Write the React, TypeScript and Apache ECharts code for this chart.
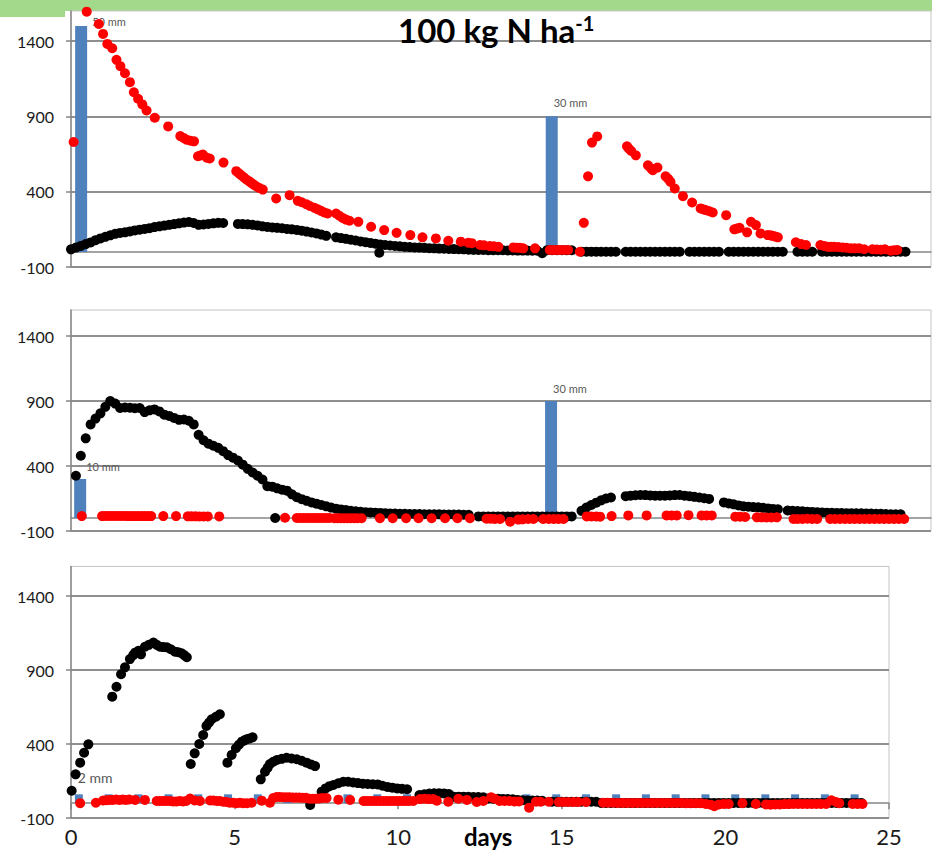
import React, { useEffect, useRef } from "react";
import * as echarts from "echarts";

// ---------- data ----------
const TITLE_MAIN = "100 kg N ha";
const TITLE_SUP = "-1";
const X_NAME = "days";
const Y_TICKS = [-100, 400, 900, 1400];
const Y_MIN = -100;
const Y_MAX = 1600;
const X_MAX_TOP = 26.28;
const X_MAX_BOTTOM = 25;
const MM_SCALE = 30; // axis units per mm of water

const STEP = 0.15; // sampling step (days) of the dense black records

// Panel 1
const P1_RAIN_DAYS = [0.31, 14.69];
const P1_RAIN_MM = [50, 30];
const P1_BLACK_START = 0;
const P1_BLACK = [
  17, 29, 40, 52, 63, 78, 90, 100, 110, 120,
  126, 130, 136, 143, 148, 153, 158, 165, 170, 175,
  180, 185, 190, 195, 199, 192, 180, 182, 186, 190,
  193, 192, null, null, 186, 185, 183, 180, 176, 170,
  166, 163, 160, 157, 153, 150, 146, 141, 135, 129,
  123, 115, 107, null, 97, 92, 87, 81, 76, 70,
  65, 60, 55, 50, 46, 43, 40, 37, 34, 32,
  30, 29, 27, 25, 24, 22, 21, 20, 19, 18,
  17, 15, 14, 13, 13, 12, 12, 11, 11, 10,
  10, 9, 9, 9, 8, 8, -9, 12, 12, 12,
  12, 11, 11, null, 2, 2, 2, 2, 1, 1,
  1, 1, null, 1, 1, 1, 1, 1, 1, 1,
  1, 1, 1, 1, 1, null, 1, 1, 1, 1,
  1, 1, 1, null, 1, 1, 1, 1, 1, 1,
  1, 1, 1, 1, 1, 1, null, null, 1, 1,
  1, 1, null, 1, 1, 1, 1, 1, 1, 1,
  1, 1, 1, 1, 1, 1, 1, 1, 1, 1,
  1,
];
const P1_BLACK_EXTRA = [[9.42, -5]];
const P1_RED = [
  [0.08, 730], [0.48, 1595], [0.85, 1513], [0.98, 1447], [1.11, 1381], [1.26, 1352], [1.39, 1275], [1.51, 1233],
  [1.65, 1186], [1.8, 1127], [1.92, 1060], [2.05, 1017], [2.18, 979], [2.31, 939], [2.56, 891], [2.97, 833],
  [3.34, 769], [3.44, 757], [3.53, 745], [3.65, 738], [3.76, 734], [3.88, 635], [3.95, 640], [4.03, 646],
  [4.15, 625], [4.24, 620], [4.66, 593], [5.05, 536], [5.13, 522], [5.2, 509], [5.28, 495], [5.36, 481],
  [5.44, 470], [5.51, 458], [5.58, 447], [5.66, 436], [5.75, 425], [5.86, 414], [6.27, 355], [6.68, 377],
  [6.93, 339], [7.05, 330], [7.19, 317], [7.3, 305], [7.44, 293], [7.54, 283], [7.64, 273], [7.74, 262],
  [7.84, 255], [8.1, 255], [8.2, 240], [8.3, 226], [8.4, 215], [8.51, 207], [8.78, 200], [9.17, 167],
  [9.57, 145], [9.95, 127], [10.37, 112], [10.74, 97], [11.15, 90], [11.53, 74], [11.91, 68], [12.14, 61],
  [12.25, 58], [12.5, 46], [12.62, 44], [12.8, 39], [12.92, 37], [13.06, 34], [13.52, 30], [13.62, 28],
  [13.72, 27], [13.82, 24], [14.18, 24], [14.63, 13], [14.73, 13], [14.84, 13], [14.94, 13], [15.06, 13],
  [15.19, 13], [15.55, 1], [15.67, 193], [15.8, 502], [15.92, 726], [16.08, 767], [16.99, 701], [17.05, 685],
  [17.12, 670], [17.26, 641], [17.63, 575], [17.72, 555], [17.78, 542], [17.92, 560], [18.17, 502], [18.25, 485],
  [18.32, 465], [18.45, 421], [18.7, 370], [18.98, 328], [19.24, 289], [19.33, 282], [19.41, 277], [19.51, 270],
  [19.61, 262], [20.02, 244], [20.27, 150], [20.35, 155], [20.43, 160], [20.66, 130], [20.78, 200], [20.93, 178],
  [21.07, 123], [21.29, 112], [21.37, 110], [21.44, 107], [21.52, 102], [21.6, 97], [22.15, 64], [22.31, 52],
  [22.46, 46], [22.9, 46], [23.01, 40], [23.12, 34], [23.22, 34], [23.32, 34], [23.45, 32], [23.58, 30],
  [23.7, 28], [23.83, 24], [23.95, 24], [24.08, 24], [24.24, 18], [24.49, 18], [24.62, 16], [24.75, 15],
  [24.87, 18], [25.05, 8], [25.15, 12], [25.25, 13],
];

// Panel 2
const P2_RAIN_DAYS = [0.28, 14.67];
const P2_RAIN_MM = [10, 30];
const P2_BLACK_START = 0.15;
const P2_BLACK = [
  325, 479, 613, 720, 765, 805, 855, 900, 880, 846,
  850, 848, 845, 846, 815, 828, 835, 820, 795, 785,
  770, 755, 758, 748, 720, 640, 598, 572, 556, 540,
  514, 484, 464, 442, 410, 378, 350, 325, 296, 245,
  241, 228, 218, 210, 182, 160, 145, 132, 120, 110,
  100, 90, 80, 72, 66, 61, 56, 52, 48, 45,
  43, 41, 39, 37, 35, 34, 33, 32, 31, 30,
  30, 29, 29, 28, 28, 27, 27, 26, 26, 25,
  25, null,
  12, 12, 12, 12, 12, 12, 12, 12, 12, 12,
  12, 12, 12, 12, 12, 12, 12, 12, 12, 12,
  null, 55, 80, 100, 118, 136, 150, 158, null, null,
  168, 172, 175, 177, 176, 174, 172, 171, 172, 174,
  176, 177, 172, 168, 163, 158, 152, 147, null, null,
  120, 112, 105, 97, 90, 87, 84, 82, 78, 74,
  70, 67, null,
  58, 56, 54, 52, 49, 47, 45, 43, 41, 40,
  39, 38, 37, 37, 36, 36, 35, 34, 33, 32,
  31, 29, 28, 28,
];
const P2_BLACK_EXTRA = [[6.24, 0]];
const P2_RED = [
  [0.33, 15], [0.95, 15], [1.05, 16], [1.15, 16], [1.25, 16], [1.35, 16], [1.45, 16], [1.55, 16], [1.65, 16],
  [1.75, 15], [1.85, 15], [1.95, 15], [2.05, 15], [2.15, 15], [2.25, 15], [2.35, 15], [2.45, 15], [2.82, 15],
  [3.21, 15], [3.57, 13], [3.68, 13], [3.8, 13], [3.92, 12], [4.05, 12], [4.18, 12], [4.53, 12], [6.54, 2],
  [6.9, 0], [7.0, 0], [7.1, 0], [7.2, 0], [7.3, 0], [7.4, 0], [7.5, 0], [7.6, 0], [7.7, 0], [7.8, 0], [7.9, 0],
  [8.05, -2], [8.15, -2], [8.25, -2], [8.35, -2], [8.45, -2], [8.55, -2], [8.65, -2], [8.75, -2], [8.88, -2],
  [9.44, -2], [9.83, -2], [10.24, -2], [10.62, -2], [11.02, -2], [11.43, -2], [11.81, -2], [12.19, -2],
  [12.7, -6], [12.82, -6], [12.95, -8], [13.11, -8], [13.42, -28], [13.67, -12], [13.8, -10], [13.97, -8],
  [14.13, -8], [14.43, -8], [14.6, -8], [14.75, -8], [14.9, -8], [15.05, -8], [15.76, 12], [15.9, 12],
  [16.05, 12], [16.17, 10], [16.52, 15], [17.03, 20], [17.59, 20], [18.2, 20], [18.35, 20], [18.51, 20],
  [18.87, 22], [19.27, 20], [19.42, 20], [19.58, 20], [20.3, 10], [20.45, 10], [20.6, 8], [20.96, 5],
  [21.1, 5], [21.25, 4], [21.4, 4], [21.57, 5], [22.08, -8], [22.2, -8], [22.35, -8], [22.5, -6], [22.65, -8],
  [22.8, -8], [23.2, -8], [23.35, -8], [23.5, -8], [23.65, -8], [23.8, -8], [23.95, -8], [24.1, -8],
  [24.25, -8], [24.4, -8], [24.55, -8], [24.7, -8], [24.85, -8], [25.0, -8], [25.15, -8], [25.3, -8], [25.46, -8],
];

// Panel 3
const P3_IRRIGATION_DAYS = [
  0.24, 1.15, 2.06, 2.98, 3.89, 4.8, 5.71, 6.62, 7.54, 8.45, 9.36, 10.27, 11.18, 12.1,
  13.01, 13.92, 14.83, 15.74, 16.66, 17.57, 18.48, 19.39, 20.3, 21.22, 22.13, 23.04, 23.95,
];
const P3_IRRIGATION_MM = [2, 2, 2, 2, 2, 2, 2, 2, 2, 2, 2, 2, 2, 2, 2, 2, 2, 2, 2, 2, 2, 2, 2, 2, 2, 2, 2];
const P3_BLACK_EARLY = [
  [0.02, 84], [0.14, 195], [0.28, 274], [0.4, 341], [0.53, 398],
  [1.26, 720], [1.39, 787], [1.53, 871], [1.65, 918], [1.8, 974], [1.9, 1000], [1.96, 1017], [2.06, 1030],
  [2.14, 1006], [2.26, 1057], [2.38, 1070], [2.52, 1085], [2.62, 1070], [2.72, 1057], [2.82, 1055], [2.93, 1053],
  [3.05, 1040], [3.18, 1024], [3.28, 1020], [3.38, 1013], [3.46, 1000], [3.54, 986],
  [3.66, 265], [3.78, 337], [3.92, 400], [4.04, 461], [4.14, 522], [4.22, 545], [4.3, 567], [4.43, 584], [4.55, 601],
  [4.78, 274], [4.91, 326], [5.04, 371], [5.13, 395], [5.22, 416], [5.3, 425], [5.37, 432], [5.46, 438], [5.55, 445],
  [5.8, 161], [5.93, 213], [6.01, 240], [6.08, 265], [6.18, 280], [6.29, 292], [6.44, 300], [6.59, 307],
  [6.74, 302], [6.9, 297], [7.05, 287], [7.2, 274], [7.33, 262], [7.46, 251],
  [7.31, -12],
  [7.66, 78], [7.78, 100], [7.9, 115], [8.02, 123], [8.17, 135], [8.32, 145], [8.47, 145], [8.62, 140],
  [8.77, 136], [8.92, 132], [9.07, 130], [9.22, 128], [9.37, 127], [9.52, 118], [9.67, 110], [9.82, 105],
  [9.97, 100], [10.12, 97], [10.27, 94],
];
const P3_BLACK_START = 10.65;
const P3_BLACK = [
  55, 60, 65, 67, 67, 66, 62, 44, 44, 44,
  43, 42, 42, 40, 32, 30, 30, 29, 28, 26,
  22, 20, 19, 18, 18, 16, null,
  10, 10, 10, 10, 10, 10, 10, 10, 10, 10,
  2, 2, 2, 2, 2, 2, 2, 2, 2, 2,
  2, 2, 2, 2, 2, 2, 2, 2, 2, 2,
  2, 2, 2, 2, 2, 2, 2, 2, 2, 2,
  2, 2, 2, 2, 2, 2, 2, 2, 2, 2,
  2, 2, 2, 2, 2, 2, 2, 2, 2, 2,
  2, 2, 2, 2,
];
const P3_RED = [
  [0.28, 0], [0.76, 3], [0.98, 18], [1.08, 20], [1.18, 22], [1.28, 22], [1.38, 25], [1.48, 22], [1.58, 25],
  [1.68, 22], [1.78, 25], [1.96, 22], [2.26, 22], [2.62, 15], [2.72, 15], [2.82, 15], [2.92, 15], [3.02, 15],
  [3.12, 12], [3.22, 12], [3.32, 15], [3.42, 12], [3.52, 15], [3.64, 32], [3.78, 18], [3.94, 15], [4.25, 18],
  [4.35, 18], [4.45, 15], [4.55, 15], [4.65, 10], [4.75, 8], [4.85, 3], [4.96, 3], [5.06, 0], [5.16, 3],
  [5.26, 0], [5.38, 0], [5.52, 3], [5.83, 17], [6.08, 3], [6.18, 35], [6.28, 42], [6.38, 42], [6.48, 40],
  [6.58, 40], [6.68, 40], [6.78, 38], [6.88, 38], [6.98, 38], [7.08, 36], [7.18, 36], [7.28, 30], [7.38, 30],
  [7.48, 30], [7.58, 32], [7.68, 35], [7.81, 35], [8.17, 24], [8.53, 22], [8.94, 15], [9.04, 15], [9.14, 15],
  [9.24, 15], [9.34, 15], [9.44, 15], [9.54, 15], [9.64, 15], [9.74, 15], [9.84, 15], [9.94, 15], [10.04, 15],
  [10.14, 15], [10.24, 15], [10.34, 15], [10.46, 15], [10.67, 28], [10.8, 30], [10.93, 28], [11.07, 28],
  [11.18, 17], [11.53, 10], [11.84, 30], [12.1, 22], [12.4, 8], [12.6, 15], [12.84, 40], [12.95, 30],
  [13.1, 15], [13.25, 15], [13.4, 15], [13.55, 12], [13.69, 12], [14.0, -30], [14.21, 10], [14.35, 10],
  [14.6, 10], [14.91, 8], [15.05, 8], [15.2, 8], [15.35, 8], [15.5, 8], [15.74, 8], [16.26, 3], [16.4, 3],
  [16.55, 3], [16.7, 2], [16.85, 2], [17.0, 2], [17.15, 2], [17.3, 2], [17.45, 2], [17.6, 2], [17.75, 2],
  [17.9, 2], [18.05, 2], [18.2, 2], [18.35, 2], [18.5, 2], [18.65, 2], [18.8, 0], [18.95, 0], [19.1, 0],
  [19.25, 0], [19.4, -5], [19.55, -10], [19.66, -20], [19.8, -8], [19.95, -5], [20.1, -5], [20.52, 0],
  [20.93, -5], [21.24, -8], [21.38, -10], [21.52, -8], [21.66, -8], [21.8, -6], [21.94, -6], [22.08, -5],
  [22.22, -5], [22.36, -5], [22.5, -5], [22.64, -5], [22.78, -5], [22.92, -5], [23.08, -5], [23.24, 20],
  [23.38, 8], [23.48, 0], [23.89, -5], [24.04, -5], [24.19, -5],
];

// ---------- styles ----------
const FONT = "Lato, 'Open Sans', sans-serif";
const AXIS_GREY = "#868686";
const GRID_GREY = "#8f8f8f";
const BORDER_GREY = "#c3c3c3";
const BLUE = "#4f81bd";
const RED = "#ff0000";
const BLACK = "#000000";
const GREEN = "#a3d98b";
const DOT = 10;

// label offsets relative to each bar's top-left corner (style only)
const P1_LABEL_POS = [[17, -4], [8, -14]];
const P2_LABEL_POS = [[12, -13], [8, -13]];
const P3_LABEL_POS = [[3, -17]];

function regular(start: number, values: (number | null)[]) {
  const out: number[][] = [];
  values.forEach((v, i) => {
    if (v !== null) out.push([+(start + i * STEP).toFixed(3), v]);
  });
  return out;
}

function barData(days: number[], mm: number[], labelPos: number[][]) {
  return days.map((d, i) => ({
    value: [d, mm[i]],
    label: labelPos[i] ? { show: true, position: labelPos[i] } : { show: false },
  }));
}

function buildOption() {
  const grids = [
    { left: 71, top: 10.9, width: 860, height: 256.1 },
    { left: 71, top: 310, width: 860, height: 221 },
    { left: 71, top: 566.4, width: 818, height: 251.6 },
  ].map((g) => ({
    ...g,
    show: true,
    borderColor: BORDER_GREY,
    borderWidth: 1,
    backgroundColor: "transparent",
    containLabel: false,
    outerBoundsMode: "none",
  }));

  const xZero = (gridIndex: number, max: number, ticks: boolean) => ({
    type: "value",
    gridIndex,
    min: 0,
    max,
    interval: 5,
    position: "bottom",
    axisLine: { show: true, onZero: true, lineStyle: { color: AXIS_GREY, width: 1.5 } },
    axisTick: { show: ticks, length: 6, lineStyle: { color: AXIS_GREY, width: 1.5 } },
    axisLabel: { show: false },
    splitLine: { show: false },
  });

  const xLabels = {
    type: "value",
    gridIndex: 2,
    min: 0,
    max: X_MAX_BOTTOM,
    interval: 5,
    position: "bottom",
    axisLine: { show: false, onZero: false },
    axisTick: { show: false },
    splitLine: { show: false },
    axisLabel: { show: true, margin: 7, fontSize: 22, color: "#1a1a1a", fontFamily: FONT },
  };

  const yMain = (gridIndex: number) => ({
    type: "value",
    gridIndex,
    min: Y_MIN,
    max: Y_MAX,
    position: "left",
    axisLine: { show: true, onZero: false, lineStyle: { color: AXIS_GREY, width: 1.5 } },
    axisTick: { show: true, length: 5, customValues: Y_TICKS, lineStyle: { color: AXIS_GREY, width: 1.5 } },
    axisLabel: {
      show: true,
      customValues: Y_TICKS,
      formatter: (v: number) => String(v),
      margin: 17,
      fontSize: 16,
      color: "#1a1a1a",
      fontFamily: FONT,
    },
    splitLine: { show: true, lineStyle: { color: GRID_GREY, width: 2 } },
  });

  const yMm = (gridIndex: number) => ({
    type: "value",
    gridIndex,
    min: Y_MIN / MM_SCALE,
    max: Y_MAX / MM_SCALE,
    position: "right",
    show: false,
    splitLine: { show: false },
  });

  const barLabel = (fontSize: number) => ({
    formatter: (p: any) => `${p.value[1]} mm`,
    color: "#595959",
    fontSize,
    fontFamily: FONT,
    align: "left",
    verticalAlign: "middle",
  });

  const panel = (
    idx: number,
    rainDays: number[],
    rainMm: number[],
    labelPos: number[][],
    barWidth: number,
    labelSize: number,
    black: number[][],
    blackExtra: number[][],
    red: number[][]
  ) => [
    {
      type: "bar",
      xAxisIndex: idx,
      yAxisIndex: 3 + idx,
      barWidth,
      itemStyle: { color: BLUE },
      label: barLabel(labelSize),
      data: barData(rainDays, rainMm, labelPos),
      z: 1,
    },
    {
      type: "scatter",
      xAxisIndex: idx,
      yAxisIndex: idx,
      symbolSize: DOT,
      itemStyle: { color: BLACK, opacity: 1 },
      data: black.concat(blackExtra),
      z: 2,
    },
    {
      type: "scatter",
      xAxisIndex: idx,
      yAxisIndex: idx,
      symbolSize: DOT,
      itemStyle: { color: RED, opacity: 1 },
      data: red,
      z: 3,
    },
  ];

  return {
    animation: false,
    backgroundColor: "#ffffff",
    grid: grids,
    xAxis: [xZero(0, X_MAX_TOP, false), xZero(1, X_MAX_TOP, false), xZero(2, X_MAX_BOTTOM, true), xLabels],
    yAxis: [yMain(0), yMain(1), yMain(2), yMm(0), yMm(1), yMm(2)],
    series: [
      ...panel(0, P1_RAIN_DAYS, P1_RAIN_MM, P1_LABEL_POS, 12, 11, regular(P1_BLACK_START, P1_BLACK), P1_BLACK_EXTRA, P1_RED),
      ...panel(1, P2_RAIN_DAYS, P2_RAIN_MM, P2_LABEL_POS, 12, 11, regular(P2_BLACK_START, P2_BLACK), P2_BLACK_EXTRA, P2_RED),
      ...panel(2, P3_IRRIGATION_DAYS, P3_IRRIGATION_MM, P3_LABEL_POS, 8, 14, P3_BLACK_EARLY.concat(regular(P3_BLACK_START, P3_BLACK)), [], P3_RED),
    ],
    graphic: [
      { type: "rect", z: -10, shape: { x: 0, y: 0, width: 932, height: 11 }, style: { fill: GREEN } },
      { type: "rect", z: -10, shape: { x: 0, y: 0, width: 65, height: 17 }, style: { fill: GREEN } },
      {
        type: "text",
        z: 10,
        x: 398,
        y: 13,
        style: {
          text: `{a|${TITLE_MAIN}}{b|${TITLE_SUP}}`,
          align: "left",
          verticalAlign: "top",
          rich: {
            a: { fontSize: 33, fontWeight: "bold", fontFamily: FONT, fill: "#000" },
            b: { fontSize: 20, fontWeight: "bold", fontFamily: FONT, fill: "#000", verticalAlign: "top" },
          },
        },
      },
      {
        type: "text",
        z: 10,
        x: 464,
        y: 836,
        style: {
          text: X_NAME,
          align: "left",
          verticalAlign: "middle",
          fontSize: 24,
          fontWeight: "bold",
          fontFamily: FONT,
          fill: "#000",
        },
      },
    ],
  };
}

export default function App() {
  const ref = useRef<HTMLDivElement>(null);
  useEffect(() => {
    const chart = echarts.init(ref.current!, null, { renderer: "svg" });
    chart.setOption(buildOption() as any);
    return () => chart.dispose();
  }, []);
  return (
    <div
      ref={ref}
      style={{ position: "absolute", left: 0, top: 0, width: 932, height: 852, background: "#fff" }}
    />
  );
}
